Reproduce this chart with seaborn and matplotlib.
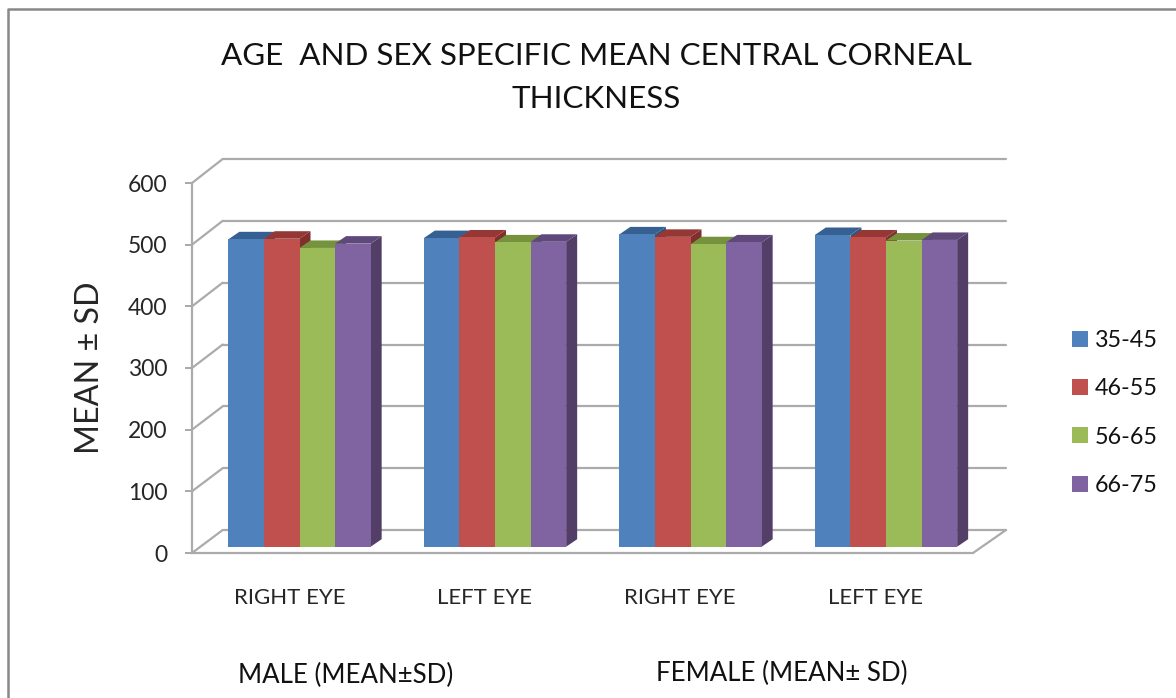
import pandas as pd
import numpy as np
import matplotlib
matplotlib.use('Agg')
import matplotlib.pyplot as plt
from matplotlib.patches import ConnectionPatch, Polygon
from matplotlib.lines import Line2D
import seaborn as sns

# Values
groups = ['male right', 'male left', 'female right', 'female left']
eye_labels = ['RIGHT EYE', 'LEFT EYE', 'RIGHT EYE', 'LEFT EYE']
ages = ['35-45', '46-55', '56-65', '66-75']
age_35_45 = [499, 501, 507, 506]
age_46_55 = [500, 502, 503, 502]
age_56_65 = [485, 494, 491, 497]
age_66_75 = [492, 495, 494, 498]
y_ticks = [0, 100, 200, 300, 400, 500, 600]

front_colors = ['#4F81BD', '#C0504D', '#9BBB59', '#8064A2']
top_colors = ['#366092', '#953735', '#76923C', '#5F497A']
side_colors = ['#2F5480', '#7F2F2D', '#647C33', '#523E67']
line_color = '#ababab'

df = pd.DataFrame({
    'group': groups * 4,
    'age': np.repeat(ages, 4),
    'value': age_35_45 + age_46_55 + age_56_65 + age_66_75,
})

W, H = 1176, 698
sns.set_theme(style='white')
plt.rcParams['font.family'] = ['Lato', 'DejaVu Sans']
plt.rcParams['text.color'] = '#111111'

fig = plt.figure(figsize=(W / 100, H / 100), dpi=100)


def axes_px(x0, x1, ytop, ybottom, z):
    # axes placed by picture pixels, y counted from the top
    ax = fig.add_axes([x0 / W, 1 - ybottom / H, (x1 - x0) / W, (ybottom - ytop) / H], zorder=z)
    ax.patch.set_alpha(0)
    sns.despine(ax=ax, left=True, bottom=True)
    ax.set_xlim(-0.5, 3.5)
    ax.set_ylim(0, 600)
    return ax


ax_wall = axes_px(222.7, 1006, 159, 530, 0)
ax_front = axes_px(192, 973, 183, 553, 1)
ax_bar = axes_px(201.75, 983.75, 177.1, 546.7, 2)

# Back wall gridlines
ax_wall.set_xticks([])
ax_wall.set_yticks(y_ticks)
ax_wall.set_yticklabels([])
ax_wall.tick_params(left=False)
ax_wall.yaxis.grid(True, color=line_color, linewidth=1.6)
ax_wall.set_axisbelow(True)
for line in ax_wall.get_ygridlines():
    line.set_clip_on(False)

# Front axis with the tick labels
sns.despine(ax=ax_front, left=False, bottom=False)
for side in ['left', 'bottom']:
    ax_front.spines[side].set_color(line_color)
    ax_front.spines[side].set_linewidth(1.6)
ax_front.set_yticks(y_ticks)
ax_front.tick_params(axis='y', left=True, length=5, width=1.2, color='#999999', labelsize=16.5, pad=12.5)
ax_front.set_xticks(range(4))
ax_front.set_xticklabels(eye_labels)
ax_front.tick_params(axis='x', bottom=False, labelsize=16, pad=19)
ax_front.set_ylabel('MEAN ± SD', fontsize=23.2, labelpad=16.5)

# Slanted lines between the front axis and the wall
for v in y_ticks:
    fig.add_artist(ConnectionPatch((-0.5, v), (-0.5, v), coordsA=ax_front.transData,
                                   coordsB=ax_wall.transData, color=line_color, linewidth=1.6))
fig.add_artist(ConnectionPatch((3.5, 0), (3.5, 0), coordsA=ax_front.transData,
                               coordsB=ax_wall.transData, color=line_color, linewidth=1.6))

# Bars
sns.barplot(data=df, x='group', y='value', hue='age', order=groups, hue_order=ages,
            palette=front_colors, saturation=1, width=0.728, gap=0, errorbar=None,
            edgecolor='none', linewidth=0, ax=ax_bar)
ax_bar.set_xlim(-0.5, 3.5)
ax_bar.set_ylim(0, 600)
ax_bar.set_xlabel('')
ax_bar.set_ylabel('')
ax_bar.set_xticks([])
ax_bar.set_yticks([])

# Depth faces of each bar, in data units
dx = 11 / (782 / 4)
dy = 7.5 / (369.6 / 600)
bars = []
for k, container in enumerate(ax_bar.containers):
    for bar in container:
        bars.append((bar, k))
bars.sort(key=lambda item: item[0].get_x())
for n, (bar, k) in enumerate(bars):
    x0 = bar.get_x()
    x1 = x0 + bar.get_width()
    h = bar.get_height()
    z = 3 + n
    ax_bar.add_patch(Polygon([(x1, 0), (x1 + dx, dy), (x1 + dx, h + dy), (x1, h)], closed=True,
                             facecolor=side_colors[k], edgecolor='none', zorder=z, clip_on=False))
    ax_bar.add_patch(Polygon([(x0, h), (x0 + dx, h + dy), (x1 + dx, h + dy), (x1, h)], closed=True,
                             facecolor=top_colors[k], edgecolor='none', zorder=z + 0.1, clip_on=False))
    bar.set_zorder(z + 0.2)
    bar.set_clip_on(False)

# Legend
sns.move_legend(ax_bar, loc='center left', bbox_to_anchor=(1060 / W, 1 - 413 / H),
                bbox_transform=fig.transFigure, title=None, frameon=False, fontsize=16.8,
                handlelength=0.68, handleheight=0.68, handletextpad=0.32,
                labelspacing=1.17, borderpad=0)

# Title and group captions
fig.text(596 / W, 1 - 56 / H, 'AGE  AND SEX SPECIFIC MEAN CENTRAL CORNEAL', fontsize=22.6,
         ha='center', va='center')
fig.text(596 / W, 1 - 99 / H, 'THICKNESS', fontsize=22.6, ha='center', va='center')
fig.text(346 / W, 1 - 675 / H, 'MALE (MEAN±SD)', fontsize=18.6, ha='center', va='center')
fig.text(782 / W, 1 - 673 / H, 'FEMALE (MEAN± SD)', fontsize=18.6, ha='center', va='center')

# Chart area border
fig.add_artist(Line2D([7.5 / W, 7.5 / W, 1], [0, 1 - 9 / H, 1 - 9 / H], color='#888888', linewidth=1.8))

plt.savefig('out.png', dpi=100)
